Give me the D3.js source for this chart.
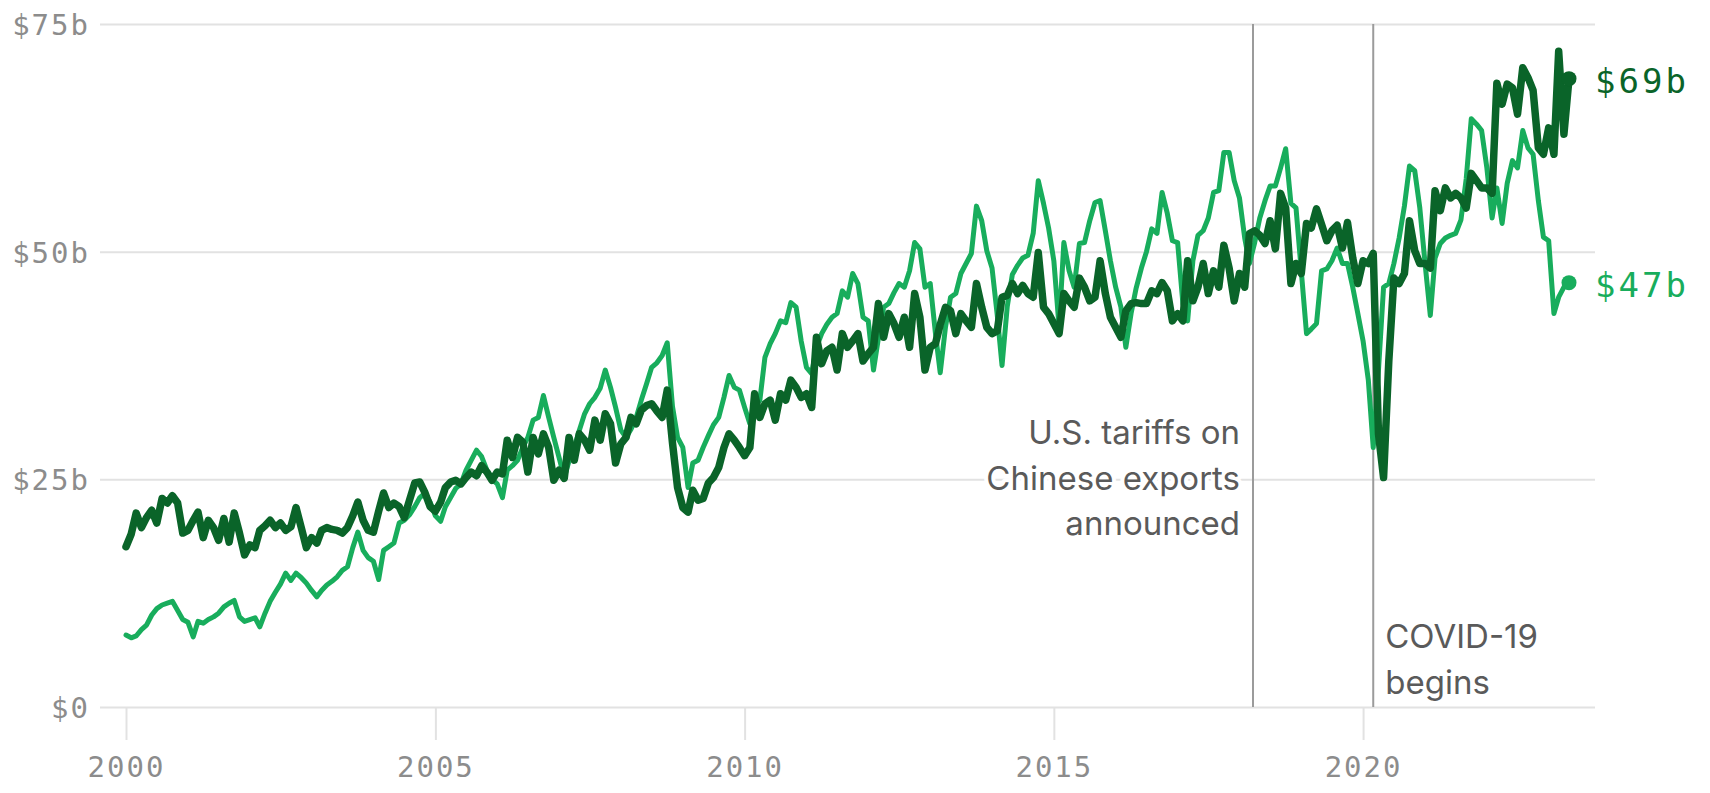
<!DOCTYPE html>
<html>
<head>
<meta charset="utf-8">
<script src="https://cdn.jsdelivr.net/npm/d3@7"></script>
<style>
  html, body { margin: 0; padding: 0; background: #ffffff; }
  svg { display: block; }
</style>
</head>
<body>
<svg id="chart" width="1710" height="793"></svg>
<script>
// ---------------- DATA (monthly, Jan 2000 – May 2023, $ billions) ----------------
const firstMonth = [2000, 0];   // year, month index of first value

const tradeMexico = [
  17.6, 19.0, 21.3, 19.7, 20.8, 21.6, 20.2, 22.9, 22.4, 23.2, 22.4, 19.1, // 2000
  19.4, 20.5, 21.4, 18.6, 20.5, 19.7, 18.3, 20.7, 18.1, 21.3, 19.1, 16.7, // 2001
  17.8, 17.5, 19.4, 19.9, 20.5, 19.7, 20.2, 19.4, 19.8, 21.9, 19.7, 17.5, // 2002
  18.6, 18.0, 19.4, 19.7, 19.5, 19.4, 19.1, 19.7, 21.0, 22.5, 20.5, 19.4, // 2003
  19.2, 21.5, 23.5, 21.9, 22.4, 22.0, 20.8, 22.7, 24.6, 24.7, 23.5, 22.0, // 2004
  21.5, 22.5, 24.1, 24.7, 24.9, 24.5, 25.2, 25.8, 25.4, 26.5, 25.8, 24.9, // 2005
  25.8, 25.6, 29.3, 27.4, 29.6, 29.1, 25.8, 29.6, 27.8, 30.0, 28.5, 24.9, // 2006
  26.0, 25.1, 29.6, 27.1, 30.0, 29.3, 28.2, 31.5, 29.3, 32.2, 31.1, 26.8, // 2007
  28.9, 29.6, 31.8, 31.1, 32.6, 33.1, 33.3, 32.5, 31.8, 34.8, 29.0, 24.1, // 2008
  21.9, 21.4, 23.8, 22.7, 22.9, 24.6, 25.2, 26.3, 28.5, 30.0, 29.3, 28.5, // 2009
  27.6, 28.5, 34.4, 31.8, 33.3, 33.7, 31.5, 34.4, 33.7, 35.9, 35.1, 34.0, // 2010
  34.4, 32.9, 40.6, 37.7, 39.1, 39.5, 37.0, 41.0, 39.5, 40.2, 41.0, 38.0, // 2011
  38.8, 39.5, 44.3, 40.6, 43.2, 42.1, 40.6, 42.8, 39.5, 45.4, 42.8, 37.0, // 2012
  39.5, 39.9, 42.0, 43.9, 43.5, 41.0, 43.2, 42.4, 41.7, 46.5, 43.9, 41.7, // 2013
  41.0, 41.3, 45.0, 45.2, 46.5, 45.4, 46.3, 45.4, 45.0, 49.9, 43.9, 43.2, // 2014
  42.1, 41.0, 45.4, 44.6, 43.9, 47.1, 46.1, 44.6, 45.0, 49.0, 45.4, 42.8, // 2015
  41.7, 40.6, 43.5, 44.3, 44.4, 44.3, 44.3, 45.7, 45.4, 46.6, 45.7, 42.4, // 2016
  43.2, 42.4, 49.0, 44.6, 46.1, 48.7, 45.4, 47.9, 46.1, 50.7, 48.2, 44.6, // 2017
  47.6, 46.1, 52.0, 52.3, 51.8, 50.9, 53.4, 50.3, 56.4, 54.8, 46.5, 48.7, // 2018
  47.6, 53.1, 52.6, 54.7, 53.0, 51.2, 52.3, 52.9, 50.4, 53.2, 49.3, 46.5, // 2019
  49.0, 48.7, 49.8, 30.0, 25.2, 38.0, 47.1, 46.5, 47.6, 53.4, 50.1, 48.7, // 2020
  48.7, 48.2, 56.7, 54.5, 57.0, 55.9, 56.4, 55.9, 54.8, 58.6, 57.8, 57.0, // 2021
  57.0, 56.4, 68.5, 66.2, 68.4, 68.0, 65.1, 70.2, 69.1, 67.7, 61.4, 60.7, // 2022
  63.6, 60.7, 72.0, 62.9, 69.0                                            // 2023
];

const tradeChina = [
  7.9, 7.6, 7.8, 8.5, 9.0, 10.1, 10.8, 11.2, 11.4, 11.6, 10.6, 9.6,       // 2000
  9.3, 7.7, 9.4, 9.2, 9.6, 9.9, 10.3, 11.0, 11.4, 11.7, 9.9, 9.4,         // 2001
  9.6, 9.8, 8.8, 10.3, 11.6, 12.6, 13.5, 14.7, 13.9, 14.7, 14.2, 13.6,    // 2002
  12.8, 12.1, 12.8, 13.4, 13.8, 14.3, 15.0, 15.4, 17.5, 19.2, 17.2, 16.4, // 2003
  16.0, 14.0, 17.2, 17.6, 18.0, 20.2, 20.5, 21.1, 22.0, 23.0, 23.5, 22.5, // 2004
  21.0, 20.4, 22.0, 23.0, 24.0, 24.5, 26.0, 27.1, 28.2, 27.5, 26.0, 25.0, // 2005
  24.5, 23.0, 26.0, 26.5, 27.1, 28.5, 29.6, 31.5, 31.8, 34.2, 31.8, 29.6, // 2006
  27.4, 25.2, 27.0, 28.5, 30.4, 32.2, 33.3, 34.0, 35.0, 37.0, 35.1, 32.9, // 2007
  30.4, 29.6, 30.5, 31.8, 33.7, 35.5, 37.3, 37.8, 38.6, 40.0, 33.0, 29.6, // 2008
  28.5, 24.1, 26.8, 27.1, 28.5, 29.8, 31.0, 31.8, 34.0, 36.4, 35.1, 34.8, // 2009
  32.9, 31.1, 33.0, 33.7, 38.4, 39.9, 41.0, 42.4, 42.2, 44.4, 43.9, 40.2, // 2010
  37.3, 36.6, 39.5, 41.0, 42.0, 42.8, 43.2, 45.7, 45.0, 47.6, 46.5, 42.8, // 2011
  42.4, 37.0, 40.5, 43.9, 44.3, 45.5, 46.5, 46.1, 47.9, 51.0, 50.3, 46.1, // 2012
  46.5, 41.0, 36.7, 41.7, 45.0, 45.4, 47.6, 48.7, 49.8, 55.0, 53.4, 50.1, // 2013
  48.2, 43.0, 37.5, 44.0, 47.5, 48.5, 49.3, 49.6, 52.0, 57.8, 55.3, 52.6, // 2014
  49.0, 41.7, 51.0, 47.9, 46.1, 50.9, 51.0, 53.4, 55.4, 55.6, 52.3, 49.0, // 2015
  46.1, 43.9, 39.5, 43.2, 46.0, 48.2, 50.0, 52.5, 52.0, 56.5, 54.2, 51.2, // 2016
  51.0, 44.3, 42.4, 49.0, 51.8, 52.3, 53.7, 56.5, 56.7, 60.9, 60.9, 57.8, // 2017
  55.9, 51.5, 48.7, 51.0, 53.7, 55.6, 57.2, 57.2, 59.2, 61.3, 55.3, 54.8, // 2018
  47.9, 41.0, 41.5, 42.1, 47.9, 48.1, 49.0, 50.4, 48.7, 48.7, 46.1, 43.2, // 2019
  40.2, 35.9, 28.5, 37.0, 46.1, 46.5, 48.7, 51.5, 55.0, 59.4, 58.9, 54.8, // 2020
  48.7, 43.0, 49.3, 50.9, 51.5, 51.8, 52.0, 53.5, 58.0, 64.6, 64.0, 63.3, // 2021
  59.2, 53.7, 57.0, 53.1, 57.5, 60.0, 59.2, 63.3, 61.4, 60.7, 55.6, 51.6, // 2022
  51.2, 43.2, 45.0, 46.1, 46.6                                            // 2023
];

const yTickValues = [0, 25, 50, 75];
const yTickLabels = ["$0", "$25b", "$50b", "$75b"];
const xTickYears = [2000, 2005, 2010, 2015, 2020];

const eventDates = ["2018-03-22", "2020-03-01"];
const eventLabels = [
  ["U.S. tariffs on", "Chinese exports", "announced"],
  ["COVID-19", "begins"]
];

// ---------------- STYLE ----------------
const colorMexico = "#0a6429";
const colorChina = "#18ad5c";
const monoFont = "'DejaVu Sans Mono', 'Liberation Mono', monospace";
const sansFont = "Inter, 'Noto Sans', 'Open Sans', sans-serif";

// ---------------- CHART ----------------
const svg = d3.select("#chart");
svg.append("rect").attr("width", 1710).attr("height", 793).attr("fill", "#fff");

const monthOf = i => new Date(firstMonth[0], firstMonth[1] + i, 1);
const nMax = Math.max(tradeMexico.length, tradeChina.length);

const x = d3.scaleTime()
  .domain([monthOf(0), monthOf(nMax - 1)])
  .range([126, 1569]);

const y = d3.scaleLinear()
  .domain([0, 75])
  .range([707, 24]);

// y axis with gridlines
const gridLeft = 100, gridRight = 1595;
const yAxis = d3.axisLeft(y)
  .tickValues(yTickValues)
  .tickFormat((d, i) => yTickLabels[i])
  .tickSize(-(gridRight - gridLeft))
  .tickPadding(10);

const gy = svg.append("g")
  .attr("transform", `translate(${gridLeft},0)`)
  .call(yAxis);
gy.select(".domain").remove();
gy.selectAll(".tick line").attr("stroke", "#e2e2e2").attr("stroke-width", 2);
gy.selectAll(".tick text")
  .attr("fill", "#8c8c8c")
  .attr("font-family", monoFont)
  .attr("font-size", 29)
  .attr("letter-spacing", 2)
  .attr("dy", "0.36em");

// x axis
const xAxis = d3.axisBottom(x)
  .tickValues(xTickYears.map(yr => new Date(yr, 0, 1)))
  .tickFormat(d3.timeFormat("%Y"))
  .tickSize(33);

const gx = svg.append("g")
  .attr("transform", `translate(0,${y(0)})`)
  .call(xAxis);
gx.select(".domain").remove();
gx.selectAll(".tick line").attr("stroke", "#e2e2e2").attr("stroke-width", 2);
gx.selectAll(".tick text")
  .attr("fill", "#8c8c8c")
  .attr("font-family", monoFont)
  .attr("font-size", 29)
  .attr("letter-spacing", 2)
  .attr("y", 70)
  .attr("dy", 0);

// event lines and labels
const parseDate = d3.timeParse("%Y-%m-%d");
eventDates.forEach((ds, k) => {
  const ex = x(parseDate(ds));
  svg.append("line")
    .attr("x1", ex).attr("x2", ex)
    .attr("y1", y(75)).attr("y2", y(0))
    .attr("stroke", "#9b9b9b")
    .attr("stroke-width", 2);

  const leftSide = k === 0;
  const t = svg.append("text")
    .attr("font-family", sansFont)
    .attr("font-size", 33)
    .attr("fill", "#5a5a5a")
    .attr("text-anchor", leftSide ? "end" : "start")
    .attr("stroke", "#fff")
    .attr("stroke-width", 8)
    .attr("stroke-linejoin", "round")
    .attr("paint-order", "stroke");
  const baseY = leftSide ? 444 : 648;
  eventLabels[k].forEach((line, j) => {
    t.append("tspan")
      .attr("x", leftSide ? ex - 13 : ex + 12)
      .attr("y", baseY + j * 45.5)
      .text(line);
  });
});

// lines
const lineGen = d3.line()
  .x((d, i) => x(monthOf(i)))
  .y(d => y(d))
  .curve(d3.curveLinear);

svg.append("path")
  .datum(tradeChina)
  .attr("fill", "none")
  .attr("stroke", colorChina)
  .attr("stroke-width", 5)
  .attr("stroke-linejoin", "round")
  .attr("stroke-linecap", "round")
  .attr("d", lineGen);

svg.append("path")
  .datum(tradeMexico)
  .attr("fill", "none")
  .attr("stroke", colorMexico)
  .attr("stroke-width", 7.5)
  .attr("stroke-linejoin", "round")
  .attr("stroke-linecap", "round")
  .attr("d", lineGen);

// end dots and labels
[[tradeMexico, colorMexico], [tradeChina, colorChina]].forEach(([series, col]) => {
  const i = series.length - 1;
  const v = series[i];
  const cx = x(monthOf(i)), cy = y(v);
  svg.append("circle")
    .attr("cx", cx).attr("cy", cy).attr("r", 7.5)
    .attr("fill", col);
  svg.append("text")
    .attr("x", cx + 26)
    .attr("y", cy + 2)
    .attr("dy", "0.36em")
    .attr("font-family", monoFont)
    .attr("font-size", 34)
    .attr("letter-spacing", 3)
    .attr("fill", col)
    .text("$" + Math.round(v) + "b");
});
</script>
</body>
</html>
